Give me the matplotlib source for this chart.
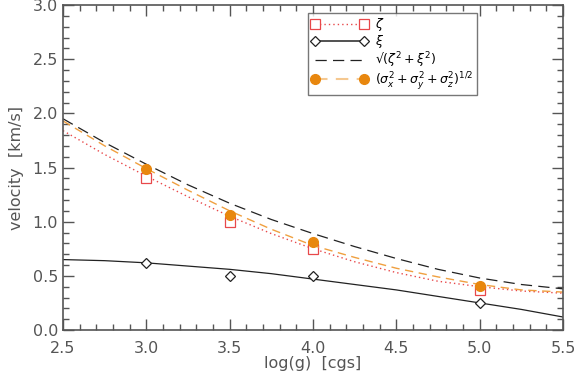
import matplotlib
matplotlib.use("Agg")
import matplotlib.pyplot as plt
from matplotlib.ticker import MultipleLocator

# Measured points
logg_pts = [3.0, 3.5, 4.0, 5.0]
zeta_pts = [1.40, 1.00, 0.75, 0.37]
xi_pts = [0.62, 0.50, 0.50, 0.25]
sigma_pts = [1.49, 1.06, 0.81, 0.41]

# Fitted curves
logg_fit = [2.5, 2.75, 3.0, 3.25, 3.5, 3.75, 4.0, 4.25, 4.5, 4.75, 5.0, 5.25, 5.5]
zeta_fit = [1.84, 1.62, 1.42, 1.23, 1.05, 0.89, 0.75, 0.63, 0.53, 0.45, 0.40, 0.36, 0.34]
xi_fit = [0.65, 0.64, 0.62, 0.59, 0.56, 0.52, 0.47, 0.42, 0.37, 0.31, 0.25, 0.19, 0.12]
sqrt_fit = [1.95, 1.73, 1.53, 1.34, 1.17, 1.02, 0.89, 0.77, 0.66, 0.56, 0.48, 0.42, 0.38]
sigma_fit = [1.93, 1.70, 1.49, 1.29, 1.10, 0.93, 0.78, 0.67, 0.57, 0.49, 0.42, 0.37, 0.35]

xticks = [2.5, 3.0, 3.5, 4.0, 4.5, 5.0, 5.5]
yticks = [0.0, 0.5, 1.0, 1.5, 2.0, 2.5, 3.0]

plt.rcParams['font.family'] = ['DejaVu Sans']
gray = '#555555'
red = '#e8484a'
orange = '#e8870e'

fig = plt.figure(figsize=(5.77, 3.83), dpi=100)
ax = fig.add_axes([63/577, 1-330/383, 500/577, 325/383])

ax.plot(logg_fit, zeta_fit, color=red, ls=(0, (1, 2.2)), lw=1.0)
ax.plot(logg_pts, zeta_pts, ls='none', marker='s', ms=7, mfc='white', mec=red, mew=0.9)
ax.plot(logg_fit, xi_fit, color='#222222', lw=0.9)
ax.plot(logg_pts, xi_pts, ls='none', marker='D', ms=5.5, mfc='white', mec='#222222', mew=0.9)
ax.plot(logg_fit, sqrt_fit, color='#222222', ls=(0, (9, 5)), lw=0.9)
ax.plot(logg_fit, sigma_fit, color='#f0a040', ls=(0, (6, 4)), lw=1.0)
ax.plot(logg_pts, sigma_pts, ls='none', marker='o', ms=7, mfc=orange, mec=orange)

# legend proxies
h1, = ax.plot([], [], color=red, ls=(0, (1, 2.2)), lw=1.0, marker='s', ms=7, mfc='white', mec=red, mew=0.9)
h2, = ax.plot([], [], color='#333333', lw=1.2, marker='D', ms=5.5, mfc='white', mec='#222222', mew=0.9)
h3, = ax.plot([], [], color='#222222', ls=(0, (9, 5)), lw=0.9)
h4, = ax.plot([], [], color='#f5c890', ls=(0, (6, 4)), lw=1.5, marker='o', ms=7, mfc=orange, mec=orange)
leg = ax.legend([h1, h2, h3, h4],
                [r'$\zeta$', r'$\xi$', '\u221a' + r'$(\zeta^2+\xi^2)$',
                 r'$(\sigma_x^2+\sigma_y^2+\sigma_z^2)^{1/2}$'],
                loc='upper left', bbox_to_anchor=(0.49, 0.975), numpoints=2,
                handlelength=4.5, handleheight=0.6, fontsize=9, frameon=True, fancybox=False,
                borderpad=0.25, labelspacing=0.0, handletextpad=0.6, borderaxespad=0)
leg.get_frame().set_edgecolor(gray)
leg.get_frame().set_linewidth(1.0)

ax.set_xlim(2.5, 5.5)
ax.set_ylim(0, 3.0)
ax.set_xticks(xticks)
ax.set_yticks(yticks)
ax.set_xticklabels([f'{v:.1f}' for v in xticks])
ax.set_yticklabels([f'{v:.1f}' for v in yticks])
ax.xaxis.set_minor_locator(MultipleLocator(0.1))
ax.yaxis.set_minor_locator(MultipleLocator(0.1))
ax.tick_params(which='both', direction='in', top=True, right=True, colors=gray,
               labelcolor=gray, labelsize=11.5)
ax.tick_params(which='major', length=8, width=1)
ax.tick_params(which='minor', length=4, width=1)
ax.tick_params(axis='x', pad=8)
for s in ax.spines.values():
    s.set_color(gray)
    s.set_linewidth(1.2)
ax.set_xlabel('log(g)  [cgs]', color=gray, fontsize=11.5, labelpad=0)
ax.set_ylabel('velocity  [km/s]', color=gray, fontsize=11.5, labelpad=6)

fig.savefig('out.png', dpi=100)
